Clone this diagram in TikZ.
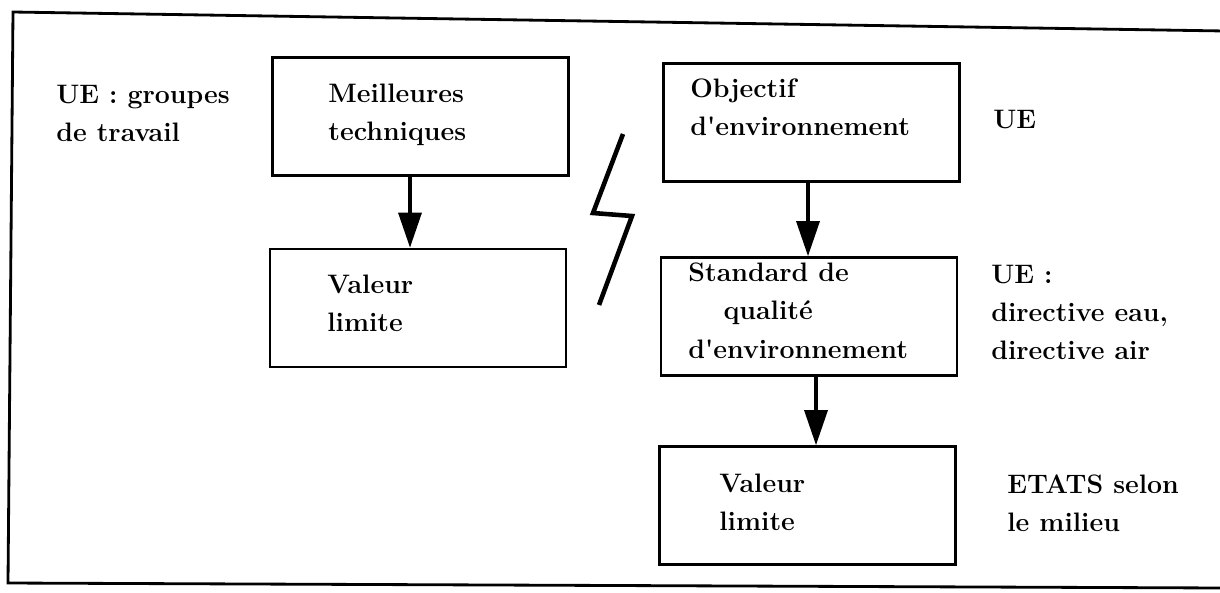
\documentclass[tikz,border=0pt]{standalone}
\usepackage{fontspec}
\usetikzlibrary{arrows.meta}

\begin{document}
\begin{tikzpicture}[x=0.2mm,y=-0.2mm,
  panel/.style={draw,line width=1.4pt,minimum width=59.2mm,minimum height=23.6mm,inner sep=0pt},
  txt/.style={anchor=north west,inner sep=0pt,align=left,font=\bfseries\fontsize{15.2}{21.8}\selectfont},
  flow/.style={line width=2.2pt,-{Triangle[length=20pt,width=13pt]}}]
% page size and the open frame (slightly skewed like the scan)
\useasboundingbox (0,0) rectangle (1220,592);
\coordinate (tl) at (13,12);
\coordinate (tr) at (1225,31);
\coordinate (bl) at (8,583);
\coordinate (br) at (1225,588);
\draw[line width=1.6pt] (tr) -- (tl) -- (bl) -- (br);

% left column
\node[panel] (mtech) at (420.5,116.5) {};
\node[panel] (vlim1) at (418,308) {};
\node[txt] (tmtech) at (328,83.5) {Meilleures\\techniques};
\node[txt] (tvlim1) at (327,274.5) {Valeur\\limite};

% right column
\node[panel] (objenv) at (811.5,122.5) {};
\node[panel] (stdqual) at (809,316.5) {};
\node[panel] (vlim2) at (807.5,505.5) {};
\node[txt] (tobjenv) at (690,78.5) {Objectif\\d\textquotesingle environnement};
\node[txt] (tstdqual) at (688,262.5) {Standard de\\\hspace*{20pt}qualité\\d\textquotesingle environnement};
\node[txt] (tvlim2) at (719,473.5) {Valeur\\limite};

% side labels
\node[txt] (ue1) at (56,84.5) {UE : groupes\\de travail};
\node[txt] (ue2) at (993,109.5) {UE};
\node[txt] (ue3) at (991,264.5) {UE :\\directive eau,\\directive air};
\node[txt] (etats) at (1007,474.5) {ETATS selon\\le milieu};

% arrows
\coordinate (a1) at (410,0);
\coordinate (a2) at (808,0);
\coordinate (a3) at (816,0);
\draw[flow] (mtech.south -| a1) -- (vlim1.north -| a1);
\draw[flow] (objenv.south -| a2) -- (stdqual.north -| a2);
\draw[flow] (stdqual.south -| a3) -- (vlim2.north -| a3);

% break mark between the two columns
\coordinate (z1) at (623,134);
\coordinate (z2) at (593,213);
\coordinate (z3) at (632,216);
\coordinate (z4) at (599,305);
\draw[line width=2.6pt] (z1) -- (z2) -- (z3) -- (z4);
\end{tikzpicture}
\end{document}
